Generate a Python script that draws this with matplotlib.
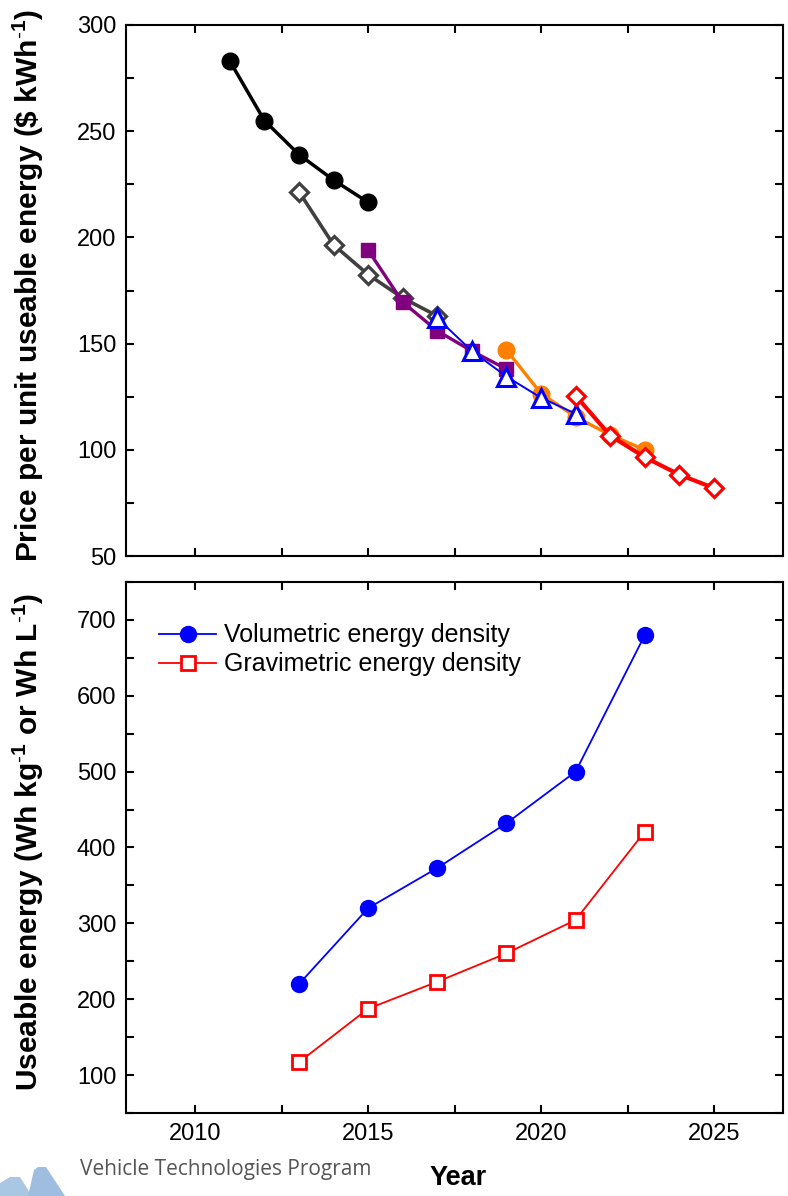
import matplotlib
matplotlib.use("Agg")
import matplotlib.pyplot as plt
from matplotlib.patches import Polygon
from matplotlib.ticker import MultipleLocator

plt.rcParams['font.family'] = ['Liberation Sans', 'DejaVu Sans']
plt.rcParams['mathtext.fontset'] = 'custom'
plt.rcParams['mathtext.rm'] = 'Liberation Sans'
plt.rcParams['mathtext.bf'] = 'Liberation Sans:bold'
plt.rcParams['mathtext.it'] = 'Liberation Sans:italic'

# ---- Data: top panel (price per unit useable energy, $/kWh) ----
black_years = [2011, 2012, 2013, 2014, 2015]
black_price = [283, 255, 239, 227, 216.5]

gray_years = [2013, 2014, 2015, 2016, 2017]
gray_price = [221.5, 196.5, 182.5, 171.5, 163]

purple_years = [2015, 2016, 2017, 2018, 2019]
purple_price = [194, 169.5, 156, 146.5, 138]

orange_years = [2019, 2020, 2021, 2022, 2023]
orange_price = [147, 126.5, 115.5, 107, 100]

blue_years = [2017, 2018, 2019, 2020, 2021]
blue_price = [162, 146.5, 134.5, 124.5, 117]

red_years = [2021, 2022, 2023, 2024, 2025]
red_price = [125.5, 106.7, 96.5, 88.3, 82]

# ---- Data: bottom panel (useable energy density) ----
dens_years = [2013, 2015, 2017, 2019, 2021, 2023]
volumetric = [220, 320, 373, 432, 500, 680]
gravimetric = [117, 187.5, 223, 260.5, 304.5, 421]

x_ticks = [2010, 2015, 2020, 2025]

fig = plt.figure(figsize=(7.88, 11.96), dpi=100)
ax1 = fig.add_axes([0.160, 0.5351, 0.8338, 0.4440])
ax2 = fig.add_axes([0.160, 0.0694, 0.8338, 0.4440])

ax1.plot(gray_years, gray_price, color='#404040', lw=2.6, marker='D', ms=9.5,
         mfc='white', mec='#404040', mew=2.3, zorder=2)
ax1.plot(black_years, black_price, color='black', lw=2.5, marker='o', ms=12,
         mfc='black', mec='black', zorder=3)
ax1.plot(purple_years, purple_price, color='#800080', lw=2.4, marker='s', ms=10.5,
         mfc='#800080', mec='#800080', zorder=4)
ax1.plot(orange_years, orange_price, color='#ff8000', lw=2.4, marker='o', ms=12,
         mfc='#ff8000', mec='#ff8000', zorder=5)
ax1.plot(blue_years, blue_price, color='#0000ff', lw=1.4, marker='^', ms=13,
         mfc='white', mec='#0000ff', mew=2.2, zorder=6)
ax1.plot(red_years, red_price, color='#ff0000', lw=3, marker='D', ms=9.5,
         mfc='white', mec='#ff0000', mew=2.3, zorder=7)

ax2.plot(dens_years, volumetric, color='#0000ff', lw=1.3, marker='o', ms=11.5,
         mfc='#0000ff', mec='#0000ff', label='Volumetric energy density')
ax2.plot(dens_years, gravimetric, color='#ff0000', lw=1.3, marker='s', ms=9.5,
         mfc='white', mec='#ff0000', mew=2, label='Gravimetric energy density')

for ax in (ax1, ax2):
    ax.set_xlim(2008, 2027)
    ax.set_xticks(x_ticks)
    ax.xaxis.set_minor_locator(MultipleLocator(2.5))
    ax.tick_params(which='both', direction='in', top=True, right=True,
                   length=6, width=1.5, labelsize=17, pad=7)
    for sp in ax.spines.values():
        sp.set_linewidth(1.5)

ax1.set_ylim(50, 300)
ax1.set_yticks([50, 100, 150, 200, 250, 300])
ax1.yaxis.set_minor_locator(MultipleLocator(25))
ax1.tick_params(labelbottom=False)

ax2.set_ylim(50, 750)
ax2.set_yticks([100, 200, 300, 400, 500, 600, 700])
ax2.yaxis.set_minor_locator(MultipleLocator(50))

leg = ax2.legend(loc='upper left', bbox_to_anchor=(0.05, 0.922), frameon=False,
                 fontsize=18, handlelength=2.3, handletextpad=0.3,
                 labelspacing=0.2, borderpad=0, borderaxespad=0)

fig.text(28 / 788, 1 - 285 / 1196,
         r'Price per unit useable energy (\$ kWh$^{\mathbf{\text{-}1}}$)',
         rotation=90, ha='center', va='center', fontsize=21.5, fontweight='bold')
fig.text(28 / 788, 1 - 842 / 1196,
         r'Useable energy (Wh kg$^{\mathbf{\text{-}1}}$ or Wh L$^{\mathbf{\text{-}1}}$)',
         rotation=90, ha='center', va='center', fontsize=21.5, fontweight='bold')
fig.text(458 / 788, 1 - 1178 / 1196, 'Year', ha='center', va='center',
         fontsize=19.5, fontweight='bold')

# watermark
fig.text(80 / 788, 1 - 1169 / 1196, 'Vehicle Technologies Program',
         ha='left', va='center', fontsize=15, color='#555555',
         family=['Open Sans', 'DejaVu Sans'])
W, H = 788.0, 1196.0
def fp(pts):
    return [(x / W, 1 - y / H) for x, y in pts]
fig.patches.append(Polygon(fp([(0, 1196), (0, 1183), (10, 1177), (20, 1177), (32, 1196)]),
                           closed=True, transform=fig.transFigure,
                           facecolor='#a9c6e3', edgecolor='none', zorder=0))
fig.patches.append(Polygon(fp([(28, 1196), (34, 1170), (38, 1167), (46, 1167), (65, 1196)]),
                           closed=True, transform=fig.transFigure,
                           facecolor='#9fbedf', edgecolor='none', zorder=0))

fig.savefig('out.png', dpi=100)
